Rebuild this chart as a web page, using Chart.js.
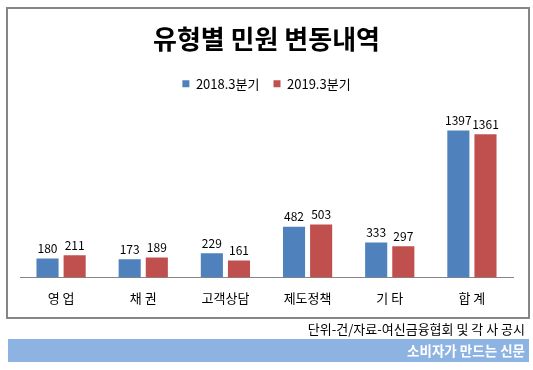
<!DOCTYPE html>
<html>
<head>
<meta charset="utf-8">
<script src="https://cdn.jsdelivr.net/npm/chart.js@4.4.1/dist/chart.umd.min.js"></script>
<style>
body{margin:0;background:#fff;width:533px;height:370px;overflow:hidden;position:relative;font-family:"Noto Sans CJK KR","Noto Sans",sans-serif;}
#frame{position:absolute;left:6px;top:7px;width:520px;height:308px;border:2px solid #868686;pointer-events:none;}
#chart{position:absolute;left:0;top:0;}
#note{position:absolute;right:8px;top:320px;font-size:13px;line-height:18px;color:#000;}
#band{position:absolute;left:8px;top:339px;width:521px;height:23px;background:#8db3e2;}
#band span{position:absolute;right:4px;top:2px;font-size:13.5px;line-height:18px;font-weight:bold;color:#fff;}
</style>
</head>
<body>
<canvas id="chart" width="533" height="370"></canvas>
<div id="frame"></div>
<div id="note">단위-건/자료-여신금융협회 및 각 사 공시</div>
<div id="band"><span>소비자가 만드는 신문</span></div>
<script>
// 데이터
const categories = ["영 업", "채 권", "고객상담", "제도정책", "기 타", "합 계"];
const series2018 = [180, 173, 229, 482, 333, 1397];
const series2019 = [211, 189, 161, 503, 297, 1361];
const seriesNames = ["2018.3분기", "2019.3분기"];

const font = '"Noto Sans CJK KR","Noto Sans",sans-serif';

// 막대 위 값 표시
const valueLabels = {
    id: "valueLabels",
    afterDatasetsDraw(chart){
        const ctx = chart.ctx;
        ctx.save();
        ctx.font = "12px " + font;
        ctx.fillStyle = "#000";
        ctx.textAlign = "center";
        ctx.textBaseline = "bottom";
        chart.data.datasets.forEach((ds, i) => {
            chart.getDatasetMeta(i).data.forEach((bar, j) => {
                ctx.fillText(ds.data[j], bar.x, bar.y - 4);
            });
        });
        ctx.restore();
    }
};

new Chart(document.getElementById("chart"), {
    type: "bar",
    data: {
        labels: categories,
        datasets: [
            {label: seriesNames[0], data: series2018, backgroundColor: "#4f81bd"},
            {label: seriesNames[1], data: series2019, backgroundColor: "#c0504d"}
        ]
    },
    options: {
        responsive: false,
        animation: false,
        layout: {padding: {left: 20, right: 20, top: 22, bottom: 59}},
        datasets: {bar: {categoryPercentage: 0.66, barPercentage: 0.815}},
        scales: {
            x: {
                grid: {display: false},
                border: {color: "#868686", width: 1},
                ticks: {color: "#000", font: {family: font, size: 13}, padding: 5}
            },
            y: {display: false, min: 0, max: 1685}
        },
        plugins: {
            title: {
                display: true,
                text: "유형별 민원 변동내역",
                color: "#000",
                font: {family: font, size: 26, weight: "bold"},
                padding: {top: 2, bottom: 8}
            },
            legend: {
                labels: {boxWidth: 7, boxHeight: 7, color: "#000", font: {family: font, size: 13}, padding: 14}
            },
            tooltip: {enabled: false}
        }
    },
    plugins: [valueLabels]
});
</script>
</body>
</html>
